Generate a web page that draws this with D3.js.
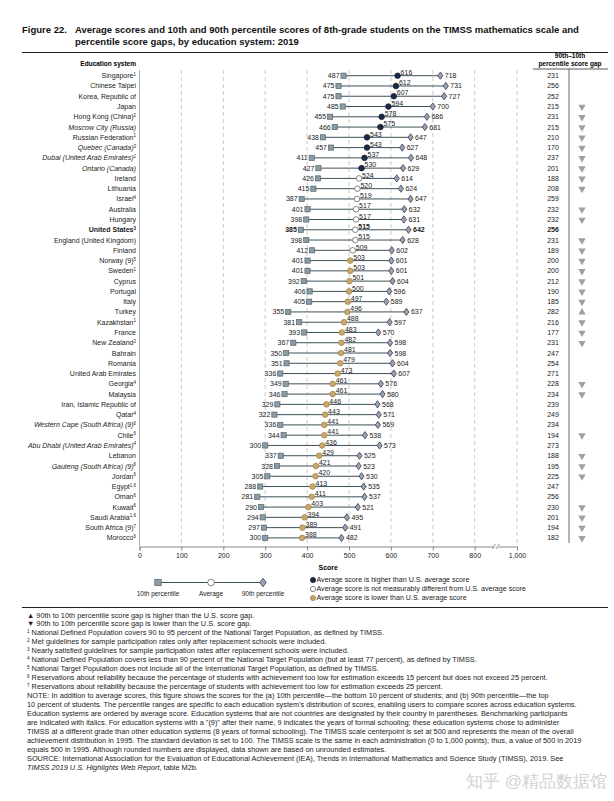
<!DOCTYPE html>
<html><head><meta charset="utf-8">
<script src="https://cdn.jsdelivr.net/npm/d3@7"></script>
<style>body{margin:0;background:#fff} svg{display:block} text{font-family:"Liberation Sans",Arial,sans-serif}</style>
</head><body><svg id="c" width="614" height="801"></svg>
<script>
const countries = ["Singapore","Chinese Taipei","Korea, Republic of","Japan","Hong Kong (China)","Moscow City (Russia)","Russian Federation","Quebec (Canada)","Dubai (United Arab Emirates)","Ontario (Canada)","Ireland","Lithuania","Israel","Australia","Hungary","United States","England (United Kingdom)","Finland","Norway (9)","Sweden","Cyprus","Portugal","Italy","Turkey","Kazakhstan","France","New Zealand","Bahrain","Romania","United Arab Emirates","Georgia","Malaysia","Iran, Islamic Republic of","Qatar","Western Cape (South Africa) (9)","Chile","Abu Dhabi (United Arab Emirates)","Lebanon","Gauteng (South Africa) (9)","Jordan","Egypt","Oman","Kuwait","Saudi Arabia","South Africa (9)","Morocco"];
const notes = ["1","","","","2","","1","3","1","","","","4","","","3","","","5","1","","","","","1","","2","","","","4","","","4","6","6","4","","6","6","1,6","6","6","1,6","7","6"];
const nameStyle = ["","","","","","italic","","italic","italic","italic","","","","","","bold","","","","","","","","","","","","","","","","","","","italic","","italic","","italic","","","","","","",""];
const p10 = [487,475,475,485,455,466,438,457,411,427,426,415,387,401,398,385,398,412,401,401,392,406,405,355,381,393,367,350,351,336,349,346,329,322,336,344,300,337,328,305,288,281,290,294,297,300];
const avg = [616,612,607,594,578,575,543,543,537,530,524,520,519,517,517,515,515,509,503,503,501,500,497,496,488,483,482,481,479,473,461,461,446,443,441,441,436,429,421,420,413,411,403,394,389,388];
const p90 = [718,731,727,700,686,681,647,627,648,629,614,624,647,632,631,642,628,602,601,601,604,596,589,637,597,570,598,598,604,607,576,580,568,571,569,538,573,525,523,530,535,537,521,495,491,482];
const gap = [231,256,252,215,231,215,210,170,237,201,188,208,259,232,232,256,231,189,200,200,212,190,185,282,216,177,231,247,254,271,228,234,239,249,234,194,273,188,195,225,247,256,230,201,194,182];
const gapFlag = ["","","","down","down","down","down","down","down","down","down","down","","down","down","","down","down","down","down","down","down","down","up","down","down","down","","","","down","down","","","","down","","down","down","down","","","down","down","down","down"];
const comparison = ["higher","higher","higher","higher","higher","higher","higher","higher","higher","higher","same","same","same","same","same","same","same","same","lower","lower","lower","lower","lower","lower","lower","lower","lower","lower","lower","lower","lower","lower","lower","lower","lower","lower","lower","lower","lower","lower","lower","lower","lower","lower","lower","lower"];
const xTicks = [0,100,200,300,400,500,600,700,800,1000];
const gridTicks = [100,200,300,400,500,600,700,800,1000];
const legendMarks = ["10th percentile","Average","90th percentile"];
const legendComparison = [["higher","Average score is higher than U.S. average score"],["same","Average score is not measurably different from U.S. average score"],["lower","Average score is lower than U.S. average score"]];
const titleLines = ["Average scores and 10th and 90th percentile scores of 8th-grade students on the TIMSS mathematics scale and","percentile score gaps, by education system: 2019"];
const footnotes = [
 ["▲","90th to 10th percentile score gap is higher than the U.S. score gap."],
 ["▼","90th to 10th percentile score gap is lower than the U.S. score gap."],
 ["1","National Defined Population covers 90 to 95 percent of the National Target Population, as defined by TIMSS."],
 ["2","Met guidelines for sample participation rates only after replacement schools were included."],
 ["3","Nearly satisfied guidelines for sample participation rates after replacement schools were included."],
 ["4","National Defined Population covers less than 90 percent of the National Target Population (but at least 77 percent), as defined by TIMSS."],
 ["5","National Target Population does not include all of the International Target Population, as defined by TIMSS."],
 ["6","Reservations about reliability because the percentage of students with achievement too low for estimation exceeds 15 percent but does not exceed 25 percent."],
 ["7","Reservations about reliability because the percentage of students with achievement too low for estimation exceeds 25 percent."]
];
const noteLines = [
 "NOTE: In addition to average scores, this figure shows the scores for the (a) 10th percentile—the bottom 10 percent of students; and (b) 90th percentile—the top",
 "10 percent of students. The percentile ranges are specific to each education system's distribution of scores, enabling users to compare scores across education systems.",
 "Education systems are ordered by average score. Education systems that are not countries are designated by their country in parentheses. Benchmarking participants",
 "are indicated with italics. For education systems with a \"(9)\" after their name, 9 indicates the years of formal schooling; these education systems chose to administer",
 "TIMSS at a different grade than other education systems (8 years of formal schooling). The TIMSS scale centerpoint is set at 500 and represents the mean of the overall",
 "achievement distribution in 1995. The standard deviation is set to 100. The TIMSS scale is the same in each administration (0 to 1,000 points); thus, a value of 500 in 2019",
 "equals 500 in 1995. Although rounded numbers are displayed, data shown are based on unrounded estimates.",
 "SOURCE: International Association for the Evaluation of Educational Achievement (IEA), Trends in International Mathematics and Science Study (TIMSS), 2019. See"
];

const svg = d3.select("#c");
const n = countries.length;
const idx = d3.range(n);
const x = d3.scaleLinear().domain([0,800,1000]).range([139.5,474.7,517]);
const y = d3.scalePoint().domain(idx).range([75.7,537.9]);
const fillAvg = {higher:"#1b2a48", same:"#ffffff", lower:"#c9a96b"};
const strokeAvg = {higher:"#0d1628", same:"#555", lower:"#9c7f45"};

// Title
const t = svg.append("g").attr("font-weight","bold").attr("font-size",9.5).attr("fill","#111");
t.append("text").attr("x",22).attr("y",33).text("Figure 22.");
titleLines.forEach((s,i)=>t.append("text").attr("x",75).attr("y",33+12*i).text(s));
svg.append("line").attr("x1",22).attr("x2",608).attr("y1",52.5).attr("y2",52.5).attr("stroke","#222").attr("stroke-width",1);

// headers
svg.append("text").attr("x",136).attr("y",66).attr("text-anchor","end").attr("font-size",6.5).attr("font-weight","bold").text("Education system");
svg.append("text").attr("x",570).attr("y",58).attr("text-anchor","middle").attr("font-size",6.5).attr("font-weight","bold").text("90th–10th");
svg.append("text").attr("x",570).attr("y",65.5).attr("text-anchor","middle").attr("font-size",6.5).attr("font-weight","bold").text("percentile score gap");
svg.append("line").attr("x1",533).attr("x2",608).attr("y1",69).attr("y2",69).attr("stroke","#333").attr("stroke-width",0.8);
svg.append("line").attr("x1",569).attr("x2",569).attr("y1",69).attr("y2",543).attr("stroke","#444").attr("stroke-width",0.8);

// gridlines
const axisY = 546.5;
svg.append("g").selectAll("line").data(gridTicks).join("line")
  .attr("x1",d=>x(d)).attr("x2",d=>x(d)).attr("y1",70).attr("y2",axisY)
  .attr("stroke","#b5b5b5").attr("stroke-width",0.7).attr("stroke-dasharray","4,3");
svg.append("line").attr("x1",x(0)).attr("x2",x(0)).attr("y1",70).attr("y2",axisY).attr("stroke","#a9b2b8").attr("stroke-width",1);

// x axis
const ax = svg.append("g").attr("transform",`translate(0,${axisY})`)
  .call(d3.axisBottom(x).tickValues(xTicks).tickFormat(d3.format(",")).tickSize(4).tickPadding(3));
ax.select(".domain").attr("stroke","#8a8a8a");
ax.selectAll(".tick line").attr("stroke","#8a8a8a");
ax.selectAll("text").attr("font-size",7).attr("fill","#222").attr("font-family","Liberation Sans, Arial, sans-serif");
const bx = (x(800)+x(1000))/2;
ax.append("rect").attr("x",bx-3).attr("y",-2).attr("width",6).attr("height",3).attr("fill","#fff");
[-2,2].forEach(o=>ax.append("line").attr("x1",bx+o-1.5).attr("x2",bx+o+1.5).attr("y1",2.5).attr("y2",-2.5).attr("stroke","#777").attr("stroke-width",0.8));
svg.append("text").attr("x",(x(0)+x(1000))/2).attr("y",570).attr("text-anchor","middle").attr("font-size",7).attr("font-weight","bold").text("Score");

// country labels
const lab = svg.append("g").attr("font-size",7).attr("fill","#222");
idx.forEach(i=>{
  const tx = lab.append("text").attr("x",136).attr("y",y(i)+2.5).attr("text-anchor","end")
    .attr("font-style",nameStyle[i]==="italic"?"italic":"normal").attr("font-weight",nameStyle[i]==="bold"?"bold":"normal");
  tx.append("tspan").text(countries[i]);
  if(notes[i]) tx.append("tspan").attr("font-size",4.5).attr("dy",-2.5).text(notes[i]);
});

// rows
const g = svg.append("g");
const diamond = "M0,-3.6L2.6,0L0,3.6L-2.6,0Z";
idx.forEach(i=>{
  const yy = y(i), bold = nameStyle[i]==="bold"?"bold":"normal";
  g.append("line").attr("x1",x(p10[i])).attr("x2",x(p90[i])).attr("y1",yy).attr("y2",yy).attr("stroke","#3d5058").attr("stroke-width",1);
  g.append("rect").attr("x",x(p10[i])-2.6).attr("y",yy-2.6).attr("width",5.2).attr("height",5.2).attr("fill","#8d9ca4").attr("stroke","#56666d").attr("stroke-width",0.7);
  g.append("path").attr("d",diamond).attr("transform",`translate(${x(p90[i])},${yy})`).attr("fill","#9aa2b4").attr("stroke","#353f52").attr("stroke-width",0.8);
  g.append("circle").attr("cx",x(avg[i])).attr("cy",yy).attr("r",2.8).attr("fill",fillAvg[comparison[i]]).attr("stroke",strokeAvg[comparison[i]]).attr("stroke-width",0.7);
  g.append("text").attr("x",x(p10[i])-4).attr("y",yy+2.5).attr("text-anchor","end").attr("font-size",7).attr("font-weight",bold).attr("fill","#222").text(p10[i]);
  g.append("text").attr("x",x(avg[i])+3).attr("y",yy-0.8).attr("font-size",7).attr("font-weight",bold).attr("fill","#222").text(avg[i]);
  g.append("text").attr("x",x(p90[i])+4.5).attr("y",yy+2.5).attr("font-size",7).attr("font-weight",bold).attr("fill","#222").text(p90[i]);
  g.append("text").attr("x",553).attr("y",yy+2.5).attr("text-anchor","middle").attr("font-size",7).attr("font-weight",bold).attr("fill","#222").text(gap[i]);
  if(gapFlag[i]){
    g.append("path").attr("d",d3.symbol(d3.symbolTriangle,24)()).attr("transform",`translate(582,${yy+0.3}) rotate(${gapFlag[i]==="down"?180:0})`).attr("fill","#a0a0a0");
  }
});

// legend
const ly = 582.5, lx = [158,211,263];
const lg = svg.append("g");
lg.append("line").attr("x1",lx[0]).attr("x2",lx[2]).attr("y1",ly).attr("y2",ly).attr("stroke","#3d5058");
lg.append("rect").attr("x",lx[0]-3.2).attr("y",ly-3.2).attr("width",6.4).attr("height",6.4).attr("fill","#8d9ca4").attr("stroke","#56666d").attr("stroke-width",0.7);
lg.append("circle").attr("cx",lx[1]).attr("cy",ly).attr("r",3.3).attr("fill","#fff").attr("stroke","#555").attr("stroke-width",0.7);
lg.append("path").attr("d","M0,-4.3L3.2,0L0,4.3L-3.2,0Z").attr("transform",`translate(${lx[2]},${ly})`).attr("fill","#9aa2b4").attr("stroke","#353f52").attr("stroke-width",0.8);
legendMarks.forEach((s,i)=>lg.append("text").attr("x",lx[i]).attr("y",ly+13).attr("text-anchor","middle").attr("font-size",6.5).attr("fill","#222").text(s));
legendComparison.forEach((d,i)=>{
  const yy = 580 + 9*i;
  lg.append("circle").attr("cx",313).attr("cy",yy).attr("r",2.6).attr("fill",fillAvg[d[0]]).attr("stroke",strokeAvg[d[0]]).attr("stroke-width",0.7);
  lg.append("text").attr("x",316.5).attr("y",yy+2.4).attr("font-size",7.1).attr("fill","#222").text(d[1]);
});
svg.append("line").attr("x1",22).attr("x2",608).attr("y1",607.5).attr("y2",607.5).attr("stroke","#222").attr("stroke-width",1);

// footnotes
const fn = svg.append("g").attr("font-size",7.35).attr("fill","#222");
const fy0 = 617.5, fdy = 8.95;
footnotes.forEach((d,i)=>{
  const tx = fn.append("text").attr("x",27).attr("y",fy0+fdy*i);
  if(d[0]==="▲"||d[0]==="▼"){ tx.append("tspan").text(d[0]+" "+d[1]); }
  else { tx.append("tspan").attr("font-size",4.6).attr("dy",-2.4).text(d[0]); tx.append("tspan").attr("dy",2.4).text(" "+d[1]); }
});
noteLines.forEach((s,i)=>fn.append("text").attr("x",27).attr("y",fy0+fdy*(footnotes.length+i)).text(s));
const last = fn.append("text").attr("x",27).attr("y",fy0+fdy*(footnotes.length+noteLines.length));
last.append("tspan").attr("font-style","italic").text("TIMSS 2019 U.S. Highlights Web Report");
last.append("tspan").text(", table M2b.");
// watermark
svg.append("text").attr("x",607).attr("y",787).attr("text-anchor","end").attr("font-size",17).attr("fill","#c8c8c8").attr("opacity",0.8)
  .attr("font-family","Noto Sans CJK SC, sans-serif").text("知乎 @精品数据馆");
</script></body></html>
